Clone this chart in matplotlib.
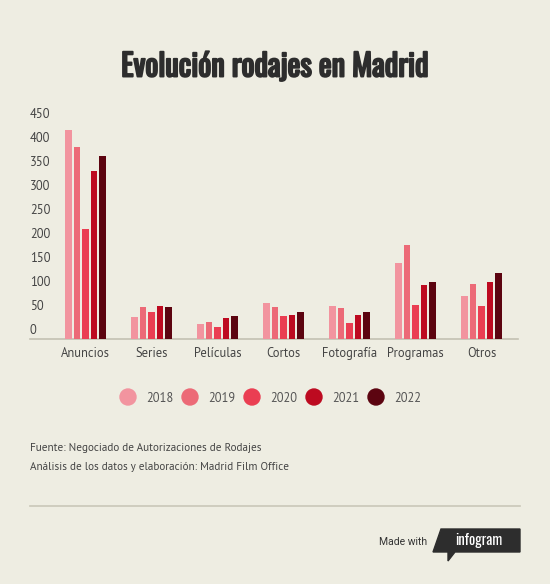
import matplotlib.pyplot as plt
import matplotlib.transforms as mtransforms
import matplotlib.patheffects as pe
from matplotlib.patches import Polygon
import numpy as np

categories = ["Anuncios", "Series", "Películas", "Cortos", "Fotografía", "Programas", "Otros"]
years = ["2018", "2019", "2020", "2021", "2022"]
v2018 = [435, 46, 32, 75, 69, 158, 90]
v2019 = [401, 66, 35, 67, 64, 196, 115]
v2020 = [230, 56, 26, 47, 34, 70, 68]
v2021 = [351, 68, 44, 49, 50, 112, 118]
v2022 = [381, 66, 47, 56, 56, 119, 138]
yticks = [0, 50, 100, 150, 200, 250, 300, 350, 400, 450]

colors = ["#f2949f", "#ec6a77", "#ea3e52", "#bd0a20", "#5c0410"]
bg = "#eeede2"
txtc = "#444444"
body = "PT Sans"

W, H = 550, 584
fig = plt.figure(figsize=(W / 100, H / 100), dpi=100, facecolor=bg)

# axes placed in pixel coords
ax = fig.add_axes([30 / W, (H - 339) / H, 488 / W, 216 / H])
ax.set_facecolor(bg)

x = np.arange(len(categories))
step, width = 0.129, 0.1
series = [v2018, v2019, v2020, v2021, v2022]
for i, vals in enumerate(series):
    ax.bar(x + (i - 2) * step, vals, width=width, color=colors[i], zorder=3)

ax.set_xlim(-0.841, 6.553)
ax.set_ylim(0, 450)
for s in ["top", "right", "left"]:
    ax.spines[s].set_visible(False)
ax.spines["bottom"].set_color("#c3c1b3")
ax.spines["bottom"].set_linewidth(1.2)
ax.set_xticks(x)
ax.set_xticklabels(categories, fontsize=9, color=txtc, family=body)
ax.tick_params(axis="x", length=0, pad=6)
ax.set_yticks([])

# y labels sit above their value line
tr = mtransforms.offset_copy(ax.get_yaxis_transform(), fig=fig, x=0, y=8 / 100 * 72, units="points")
for t in yticks:
    ax.text(0, t, str(t), transform=tr, ha="left", va="center", fontsize=9,
            color=txtc, family=body)

# Oswald here has one weight only, a thin stroke thickens it
fig.text(275 / W, 1 - 76.5 / H, "Evolución rodajes en Madrid", ha="center", va="baseline",
         fontsize=22, color="#2d2d2d", family="Oswald",
         path_effects=[pe.withStroke(linewidth=1.4, foreground="#2d2d2d")])

# legend
for i, yr in enumerate(years):
    cx = 128 + i * 62
    fig.patches.append(plt.Circle((cx, H - 397), 8, transform=None, color=colors[i]))
    fig.text((cx + 18) / W, 1 - 398 / H, yr, ha="left", va="center", fontsize=9,
             color="#555555", family=body)

fig.text(30 / W, 1 - 448 / H, "Fuente: Negociado de Autorizaciones de Rodajes", ha="left",
         va="center", fontsize=8, color=txtc, family=body)
fig.text(30 / W, 1 - 467 / H, "Análisis de los datos y elaboración: Madrid Film Office", ha="left",
         va="center", fontsize=8, color=txtc, family=body)

fig.add_artist(plt.Line2D([30 / W, 520 / W], [1 - 506 / H, 1 - 506 / H], color="#c9c7b8", lw=1.2))

fig.text(427 / W, 1 - 542 / H, "Made with", ha="right", va="center", fontsize=7.5,
         color="#333333", family="Roboto")
logo = [(441, 529), (520, 529), (520, 552), (455, 552), (448, 561), (448, 552), (433, 552)]
fig.patches.append(Polygon([(px / W, 1 - py / H) for px, py in logo], closed=True,
                           transform=fig.transFigure, color="#2d2d2d"))
fig.text(479 / W, 1 - 540 / H, "infogram", ha="center", va="center", fontsize=10.5,
         color="white", family="Oswald")

fig.savefig("out.png", dpi=100, facecolor=bg)
